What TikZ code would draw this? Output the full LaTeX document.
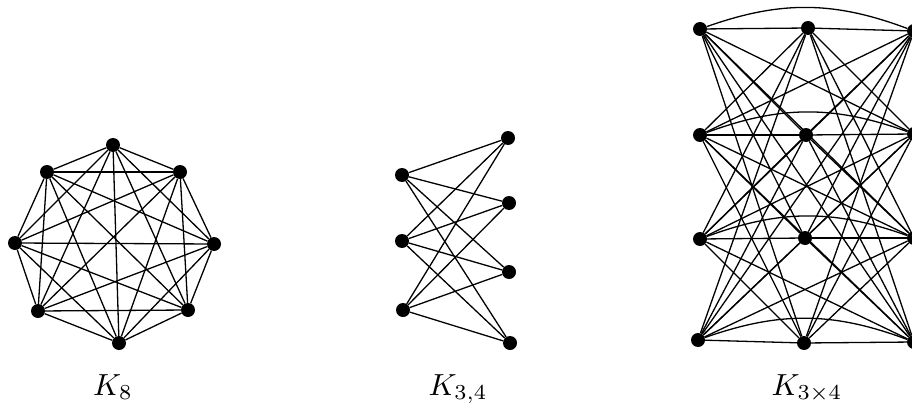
\documentclass[tikz,border=0pt]{standalone}
\usepackage{graphicx}
\begin{document}
\begin{tikzpicture}[x=1pt,y=-1pt,
  vtx/.style={circle,fill=black,inner sep=0pt,minimum size=14pt},
  edge/.style={line width=1.3pt},
  lbl/.style={anchor=base,inner sep=0pt}]
\useasboundingbox (0,0) rectangle (912,404);
% K8
\node[vtx] (a1) at (113,145) {};
\node[vtx] (a2) at (180,172) {};
\node[vtx] (a3) at (214,244) {};
\node[vtx] (a4) at (188,310) {};
\node[vtx] (a5) at (119,343) {};
\node[vtx] (a6) at (38,311) {};
\node[vtx] (a7) at (15,243) {};
\node[vtx] (a8) at (47,172) {};
\foreach \i in {1,...,7}{
  \pgfmathtruncatemacro\s{\i+1}
  \foreach \j in {\s,...,8}{\draw[edge] (a\i) -- (a\j);}
}
% K3,4
\node[vtx] (b1) at (402,175) {};
\node[vtx] (b2) at (402,241) {};
\node[vtx] (b3) at (403,310) {};
\node[vtx] (c1) at (508,138) {};
\node[vtx] (c2) at (509,203) {};
\node[vtx] (c3) at (509,272) {};
\node[vtx] (c4) at (510,343) {};
\foreach \i in {1,2,3}{\foreach \j in {1,...,4}{\draw[edge] (b\i) -- (c\j);}}
% K3x4
\node[vtx] (L1) at (700,29) {};
\node[vtx] (L2) at (700,135) {};
\node[vtx] (L3) at (700,239) {};
\node[vtx] (L4) at (698,340) {};
\node[vtx] (M1) at (808,28) {};
\node[vtx] (M2) at (806,135) {};
\node[vtx] (M3) at (805,238) {};
\node[vtx] (M4) at (804,343) {};
\node[vtx] (R1) at (914,31) {};
\node[vtx] (R2) at (914,134) {};
\node[vtx] (R3) at (914,238) {};
\node[vtx] (R4) at (914,342) {};
\foreach \i in {1,...,4}{\foreach \j in {1,...,4}{
  \draw[edge] (L\i) -- (M\j);
  \draw[edge] (M\i) -- (R\j);
  \ifnum\i=\j
    \draw[edge] (L\i) to[bend left=20] (R\j);
  \else
    \draw[edge] (L\i) -- (R\j);
  \fi
}}
% labels
\node[lbl] (t1) at (113,395) {\scalebox{3.05}{$K_8$}};
\node[lbl] (t2) at (458,395) {\scalebox{3.05}{$K_{3,4}$}};
\node[lbl] (t3) at (807,395) {\scalebox{3.05}{$K_{3\times 4}$}};
\end{tikzpicture}
\end{document}
